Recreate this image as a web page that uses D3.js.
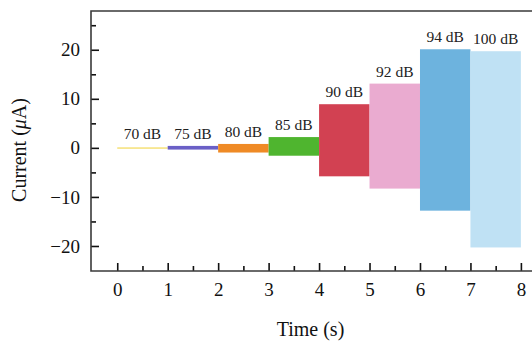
<!DOCTYPE html>
<html>
<head>
<meta charset="utf-8">
<script src="https://cdn.jsdelivr.net/npm/d3@7"></script>
<style>
  body { margin: 0; background: #fff; }
  svg { display: block; font-family: "Liberation Serif", "DejaVu Serif", serif; }
</style>
</head>
<body>
<svg width="532" height="343"></svg>
<script>
// one segment per second, envelope of the current signal (uA)
const levels = ['70 dB', '75 dB', '80 dB', '85 dB', '90 dB', '92 dB', '94 dB', '100 dB'];
const startTimes = [0, 1, 2, 3, 4, 5, 6, 7];
const upper = [0.12, 0.4, 0.8, 2.2, 8.9, 13.1, 20.1, 19.7];
const lower = [-0.2, -0.35, -0.95, -1.6, -5.8, -8.3, -12.8, -20.3];
const colors = ['#f6e27e', '#6a5fc6', '#ef8a25', '#4fb52f', '#d24152', '#eaabd0', '#6db3de', '#bfe1f4'];

const xTicks = [0, 1, 2, 3, 4, 5, 6, 7, 8];
const yTicks = [-20, -10, 0, 10, 20];

const svg = d3.select('svg');

const mLeft = 91, mRight = 532, mTop = 11, mBottom = 271;

const x = d3.scaleLinear()
    .domain([-0.52, 8.22])
    .range([mLeft, mRight]);
const y = d3.scaleLinear()
    .domain([-25.1, 27.9])
    .range([mBottom, mTop]);

const segs = levels.map((l, i) => ({
    label: l, t0: startTimes[i], hi: upper[i], lo: lower[i], color: colors[i]
}));

// signal bands
svg.append('g')
    .selectAll('rect')
    .data(segs)
    .enter()
    .append('rect')
    .attr('x', d => x(d.t0))
    .attr('width', d => x(d.t0 + 1) - x(d.t0))
    .attr('y', d => y(d.hi))
    .attr('height', d => Math.max(1.4, y(d.lo) - y(d.hi)))
    .attr('fill', d => d.color);

// dB labels above each band
svg.append('g')
    .selectAll('text')
    .data(segs)
    .enter()
    .append('text')
    .attr('x', d => x(d.t0 + 0.5))
    .attr('y', d => y(Math.max(d.hi, 0.4)) - 7)
    .attr('text-anchor', 'middle')
    .attr('font-size', 15.5)
    .attr('fill', '#222')
    .text(d => d.label);

// minor ticks
const minorX = d3.range(0.5, 8.2, 1);
const minorY = [-15, -5, 5, 15, 25];

svg.append('g')
    .attr('transform', `translate(0,${mBottom})`)
    .call(d3.axisBottom(x).tickValues(xTicks).tickSize(-8).tickPadding(12).tickFormat(d3.format('d')));
svg.append('g')
    .attr('transform', `translate(0,${mBottom})`)
    .call(d3.axisBottom(x).tickValues(minorX).tickSize(-5).tickFormat(''));

svg.append('g')
    .attr('transform', `translate(${mLeft},0)`)
    .call(d3.axisLeft(y).tickValues(yTicks).tickSize(-8).tickPadding(11).tickFormat(d => d < 0 ? '\u2212' + Math.abs(d) : d));
svg.append('g')
    .attr('transform', `translate(${mLeft},0)`)
    .call(d3.axisLeft(y).tickValues(minorY).tickSize(-5).tickFormat(''));

svg.selectAll('.domain').remove();
svg.selectAll('.tick line').attr('stroke', '#111').attr('stroke-width', 1.6);
svg.selectAll('.tick text').attr('font-size', 19).attr('fill', '#111')
    .attr('font-family', '"Liberation Serif", serif');

// frame: left, top, bottom
svg.append('path')
    .attr('d', `M${mRight},${mTop}H${mLeft}V${mBottom}H${mRight}`)
    .attr('fill', 'none')
    .attr('stroke', '#3a3a3a')
    .attr('stroke-width', 1.6);

// axis titles
svg.append('text')
    .attr('x', (mLeft + mRight) / 2 - 1)
    .attr('y', 336)
    .attr('text-anchor', 'middle')
    .attr('font-size', 20)
    .attr('fill', '#111')
    .text('Time (s)');

const yt = svg.append('text')
    .attr('transform', `translate(26,${(mTop + mBottom) / 2 + 9}) rotate(-90)`)
    .attr('text-anchor', 'middle')
    .attr('font-size', 20)
    .attr('fill', '#111');
yt.append('tspan').text('Current (');
yt.append('tspan').attr('font-style', 'italic').text('\u03bc');
yt.append('tspan').text('A)');
</script>
</body>
</html>
